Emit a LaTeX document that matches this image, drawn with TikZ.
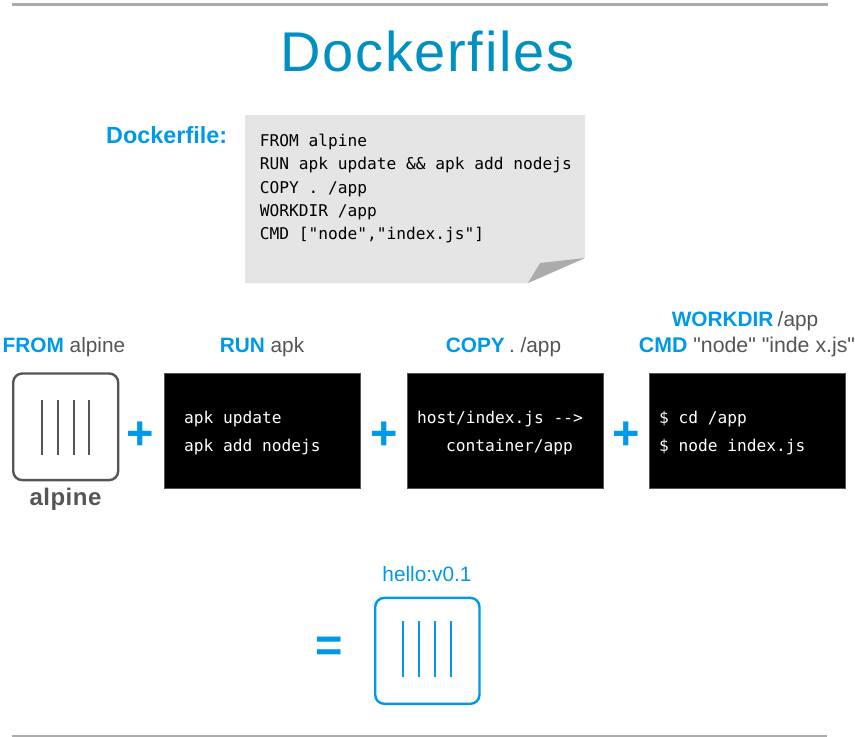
\documentclass[tikz,border=0pt]{standalone}
\usepackage{fontspec}
\setmainfont{Liberation Sans}
\newfontfamily\plainsans{Liberation Sans}
\newfontfamily\spacedbold[LetterSpace=2,BoldFont={Liberation Sans Bold}]{Liberation Sans}
\newfontfamily\spacedtitle[LetterSpace=3]{Liberation Sans}
\newfontfamily\codefont{DejaVu Sans Mono}
\definecolor{brand}{HTML}{0099E8}
\definecolor{titleblue}{HTML}{0090C2}
\definecolor{greytext}{HTML}{555555}
\definecolor{rulegrey}{HTML}{ABABAB}
\definecolor{paper}{HTML}{E5E5E5}
\definecolor{foldgrey}{HTML}{ABABAB}
\newcommand{\kw}[1]{\textbf{\textcolor{brand}{#1}}}
\tikzset{
  x=1pt,y=-1pt,
  rulebar/.style={draw=rulegrey,line width=2.6pt},
  headtext/.style={anchor=base,inner sep=0pt,text=greytext,font=\fontsize{20.8}{24}\selectfont},
  codetext/.style={anchor=base west,inner sep=0pt,text=black,font=\codefont\fontsize{16.2}{18}\selectfont},
  termbox/.style={fill=black,draw=greytext,line width=0.5pt,minimum width=196pt,minimum height=115pt,anchor=north west,inner sep=0pt},
  termtext/.style={anchor=base west,inner sep=0pt,text=white,font=\codefont\fontsize{16.2}{18}\selectfont},
  opsign/.style={anchor=center,inner sep=0pt,text=brand,font=\bfseries\fontsize{47}{47}\selectfont},
  imgbox/.style={line width=2.4pt,rounded corners=9pt},
  imgbar/.style={line width=2.1pt},
}
\begin{document}
\begin{tikzpicture}
\useasboundingbox (0,0) rectangle (855,737);
\fill[white] (0,0) rectangle (855,737);
\draw[rulebar] (12,4.6) -- (828,4.6);
\draw[rulebar] (12,736) -- (827,736);
\node[anchor=base,inner sep=0pt,text=titleblue,font=\spacedtitle\fontsize{56}{64}\selectfont] (title) at (427.5,71) {Dockerfiles};
\node[anchor=base west,inner sep=0pt,text=brand,font=\bfseries\fontsize{23.4}{26}\selectfont] (dflabel) at (106,143) {Dockerfile:};
% note paper
\fill[paper] (245,115) -- (585,115) -- (585,258) -- (528,283) -- (245,283) -- cycle;
\fill[foldgrey] (528,283) -- (540,263) -- (585,258) -- cycle;
\node[codetext] (c1) at (259.7,146) {FROM alpine};
\node[codetext] (c2) at (259.7,169) {RUN apk update \&\& apk add nodejs};
\node[codetext] (c3) at (259.7,193) {COPY . /app};
\node[codetext] (c4) at (259.7,216) {WORKDIR /app};
\node[codetext] (c5) at (259.7,239) {CMD ["node","index.js"]};
% headings
\node[headtext] (h1) at (64,352) {\kw{FROM} alpine};
\node[headtext] (h2) at (262,352) {\kw{RUN} apk};
\node[headtext] (h3) at (503.5,352) {\kw{COPY}\hspace{-1.5pt} . /app};
\node[headtext] (h4a) at (745,326) {\kw{WORKDIR}\hspace{-1.5pt} /app};
\node[headtext,font=\plainsans\fontsize{21.3}{24}\selectfont] (h4b) at (747,352) {\kw{CMD} "node" "inde x.js"};
% alpine image
\draw[imgbox,draw=greytext] (13.2,373.5) rectangle (118.2,480.1);
\foreach \x in {42.3,58,73.7,89.3} \draw[imgbar,draw=greytext] (\x,399.5) -- (\x,455);
\node[anchor=base,inner sep=0pt,text=greytext,font=\spacedbold\bfseries\fontsize{24}{26}\selectfont] (alp) at (65.5,505) {alpine};
% terminals
\node[termbox] (t1) at (164,373) {};
\node[termbox] (t2) at (406.7,373) {};
\node[termbox] (t3) at (649,373) {};
\node[termtext] (t1a) at (184,423) {apk update};
\node[termtext] (t1b) at (184,451) {apk add nodejs};
\node[termtext] (t2a) at (417,423) {host/index.js -{}->};
\node[termtext] (t2b) at (446,451) {container/app};
\node[termtext] (t3a) at (659,423) {\$ cd /app};
\node[termtext] (t3b) at (659,451) {\$ node index.js};
% operators
\node[opsign] (p1) at (140,436) {+};
\node[opsign] (p2) at (384.2,436) {+};
\node[opsign] (p3) at (626.5,436) {+};
\node[opsign] (eq) at (329,649) {=};
% result image
\node[anchor=base,inner sep=0pt,text=brand,font=\fontsize{20.8}{24}\selectfont] (hello) at (427,581) {hello:v0.1};
\draw[imgbox,draw=brand] (375.2,597.9) rectangle (479.5,703.8);
\foreach \x in {403.3,419.3,435.3,451.3} \draw[imgbar,draw=brand] (\x,621) -- (\x,677);
\end{tikzpicture}
\end{document}
